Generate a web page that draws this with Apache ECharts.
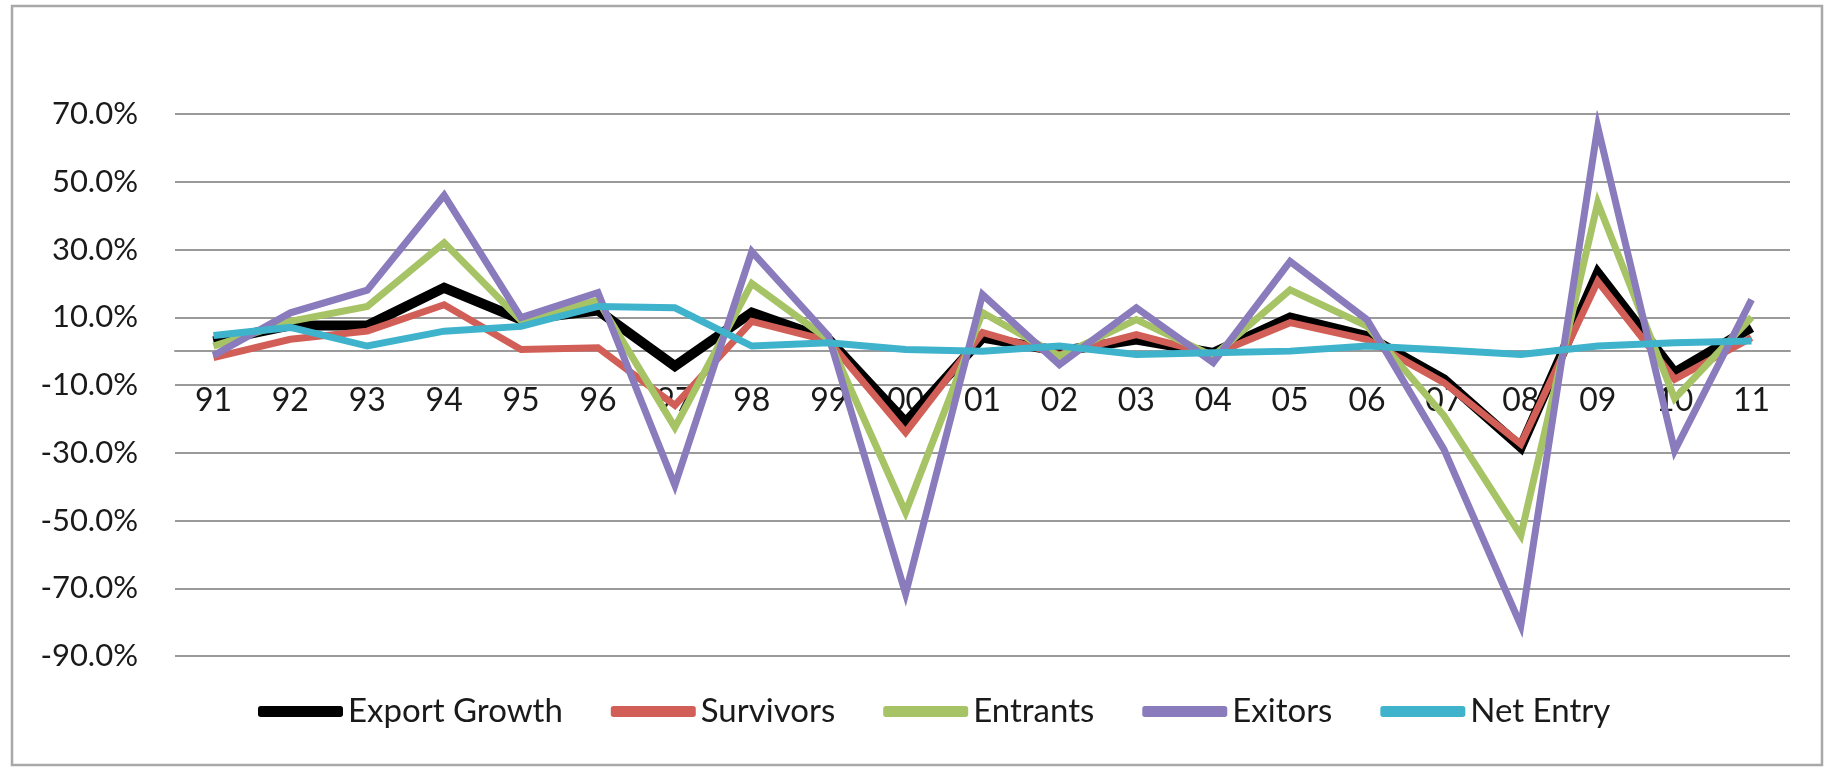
<!DOCTYPE html>
<html>
<head>
<meta charset="utf-8">
<script src="https://cdn.jsdelivr.net/npm/echarts@6/dist/echarts.min.js"></script>
<style>
html,body{margin:0;padding:0;background:#fff;}
#chart{width:1830px;height:769px;}
</style>
</head>
<body>
<div id="chart"></div>
<script>
const years = ['91','92','93','94','95','96','97','98','99','00','01','02','03','04','05','06','07','08','09','10','11'];
const exportGrowth = [2.9, 7.6, 7.6, 18.7, 9.3, 12.0, -4.4, 11.4, 3.4, -21.0, 4.0, 0.0, 3.4, -0.5, 9.9, 4.4, -8.3, -28.4, 23.1, -6.3, 7.0];
const survivors    = [-1.9, 3.5, 5.9, 13.7, 0.5, 1.0, -16.0, 8.8, 3.0, -24.0, 5.5, -1.0, 4.9, -1.0, 8.4, 3.4, -9.3, -27.4, 20.6, -8.3, 4.0];
const entrants     = [1.5, 8.8, 13.2, 32.0, 9.0, 15.0, -22.5, 20.0, 3.4, -47.6, 11.4, -1.5, 9.3, -1.5, 18.1, 7.4, -19.0, -54.4, 43.8, -14.0, 10.0];
const exitors      = [-1.3, 11.3, 18.0, 46.0, 9.9, 17.3, -39.6, 29.4, 4.4, -71.6, 16.7, -4.0, 12.8, -3.4, 26.5, 9.3, -29.0, -81.0, 66.2, -29.4, 15.2];
const netEntry     = [4.6, 7.0, 1.5, 5.9, 7.3, 13.2, 12.8, 1.5, 2.5, 0.5, 0.0, 1.5, -1.0, -0.5, 0.0, 1.5, 0.3, -1.0, 1.5, 2.5, 3.0];
const seriesNames  = ['Export Growth', 'Survivors', 'Entrants', 'Exitors', 'Net Entry'];
const yMin = -90, yMax = 70, yStep = 20;

const colors = ['#000000', '#d25f57', '#a6c465', '#8a7bbd', '#3fb3cb'];
const widths = [10, 7, 7, 7, 7];
const dataSets = [exportGrowth, survivors, entrants, exitors, netEntry];
const FONT = 'Lato';

const GRID_TOP = 114, GRID_BOTTOM = 113, H = 769;
const plotH = H - GRID_TOP - GRID_BOTTOM;
// distance from plot bottom to the zero line (derived from axis range)
const zeroOffset = plotH * (0 - yMin) / (yMax - yMin);

const chart = echarts.init(document.getElementById('chart'));
chart.setOption({
  animation: false,
  backgroundColor: '#ffffff',
  textStyle: { fontFamily: FONT },
  graphic: [{
    type: 'rect',
    shape: { x: 12, y: 6, width: 1810, height: 759 },
    style: { fill: 'none', stroke: '#a8a8a8', lineWidth: 2.5 },
    silent: true, z: -10
  }],
  grid: { left: 175, right: 40, top: GRID_TOP, bottom: GRID_BOTTOM, containLabel: false },
  legend: {
    data: seriesNames,
    left: 253, top: 690,
    icon: 'roundRect',
    itemWidth: 85, itemHeight: 11, itemGap: 48,
    textStyle: { fontFamily: FONT, fontSize: 33, color: '#1a1a1a' }
  },
  xAxis: {
    type: 'category',
    data: years,
    boundaryGap: true,
    position: 'bottom',
    offset: -zeroOffset,
    axisLine: { onZero: false, lineStyle: { color: '#9a9a9a', width: 2 } },
    axisTick: { show: false },
    axisLabel: { margin: 34, fontFamily: FONT, fontSize: 32, color: '#1a1a1a' },
    splitLine: { show: false }
  },
  yAxis: {
    type: 'value',
    min: yMin, max: yMax, interval: yStep,
    axisLine: { show: false },
    axisTick: { show: false },
    axisLabel: { margin: 37, fontFamily: FONT, fontSize: 31, color: '#1a1a1a',
      formatter: v => v.toFixed(1) + '%' },
    splitLine: { lineStyle: { color: '#9a9a9a', width: 2 } }
  },
  series: seriesNames.map((n, i) => ({
    name: n,
    type: 'line',
    data: dataSets[i],
    symbol: 'none',
    lineStyle: { color: colors[i], width: widths[i], join: 'miter' },
    itemStyle: { color: colors[i] },
    z: 2 + i
  }))
});
</script>
</body>
</html>
